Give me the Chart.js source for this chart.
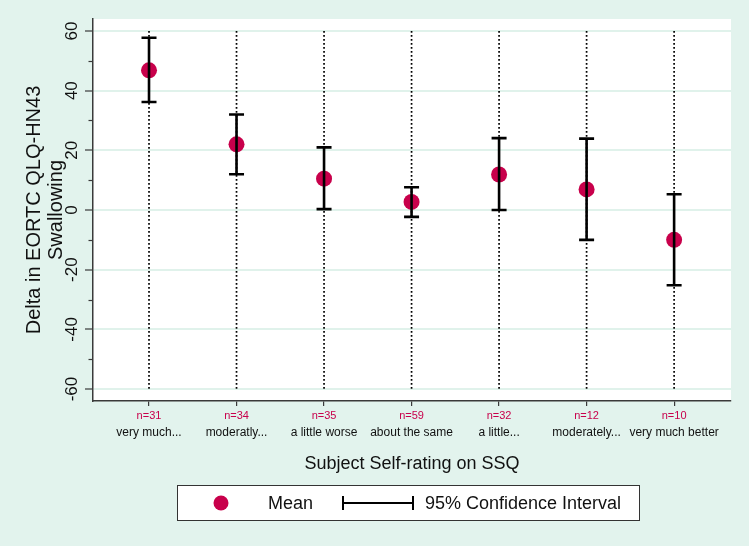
<!DOCTYPE html>
<html>
<head>
<meta charset="utf-8">
<script src="https://cdn.jsdelivr.net/npm/chart.js@4.4.1/dist/chart.umd.min.js"></script>
<style>
  html, body { margin: 0; padding: 0; background: #e2f3ed; }
  #wrap { position: relative; width: 749px; height: 546px; }
</style>
</head>
<body>
<div id="wrap"><canvas id="c" width="749" height="546"></canvas></div>
<script>
// ---- data ----
const categories = ['very much...', 'moderatly...', 'a little worse', 'about the same', 'a little...', 'moderately...', 'very much better'];
const sampleSizes = ['n=31', 'n=34', 'n=35', 'n=59', 'n=32', 'n=12', 'n=10'];
const means   = [46.8, 22.0, 10.5, 2.7, 11.9, 6.9, -10.0];
const ciLower = [36.2, 12.0, 0.3, -2.3, 0.0, -10.0, -25.2];
const ciUpper = [57.7, 32.0, 21.0, 7.6, 24.1, 23.9, 5.3];
const yMajorTicks = [-60, -40, -20, 0, 20, 40, 60];
const yMinorTicks = [-50, -30, -10, 10, 30, 50];
const yTitle = ['Delta in EORTC QLQ-HN43', 'Swallowing'];
const xTitle = 'Subject Self-rating on SSQ';
const legendLabels = ['Mean', '95% Confidence Interval'];

// ---- styles ----
const BG = '#e2f3ed';
const GRID = '#e0f2eb';
const RED = '#c8004b';
const AXIS = '#3a3a3a';
const FONT = '"Liberation Sans", Arial, sans-serif';

const bgPlugin = {
  id: 'bg',
  beforeDraw(chart) {
    const { ctx, chartArea: a } = chart;
    ctx.save();
    ctx.fillStyle = BG;
    ctx.fillRect(0, 0, chart.width, chart.height);
    ctx.fillStyle = '#ffffff';
    ctx.fillRect(a.left, a.top, a.right - a.left, a.bottom - a.top);
    ctx.restore();
  }
};

const marksPlugin = {
  id: 'marks',
  beforeDatasetsDraw(chart) {
    const { ctx, scales: { x, y } } = chart;
    ctx.save();
    // dotted reference lines at each category
    ctx.strokeStyle = '#000';
    ctx.lineWidth = 1.7;
    ctx.setLineDash([1.7, 2.3]);
    const yTop = y.getPixelForValue(yMajorTicks[yMajorTicks.length - 1]);
    const yBot = y.getPixelForValue(yMajorTicks[0]);
    categories.forEach((c, i) => {
      const px = x.getPixelForValue(i);
      ctx.beginPath();
      ctx.moveTo(px, yTop);
      ctx.lineTo(px, yBot);
      ctx.stroke();
    });
    ctx.restore();
  },
  afterDatasetsDraw(chart) {
    const { ctx, scales: { x, y } } = chart;
    ctx.save();
    ctx.strokeStyle = '#000';
    ctx.lineWidth = 2.6;
    ctx.lineCap = 'butt';
    const half = 7.5;
    categories.forEach((c, i) => {
      const px = x.getPixelForValue(i);
      const lo = y.getPixelForValue(ciLower[i]);
      const hi = y.getPixelForValue(ciUpper[i]);
      ctx.beginPath();
      ctx.moveTo(px, lo); ctx.lineTo(px, hi);
      ctx.moveTo(px - half, lo); ctx.lineTo(px + half, lo);
      ctx.moveTo(px - half, hi); ctx.lineTo(px + half, hi);
      ctx.stroke();
    });
    ctx.restore();
  },
  afterDraw(chart) {
    const { ctx, scales: { y }, chartArea: a } = chart;
    ctx.save();
    // minor y ticks
    ctx.strokeStyle = AXIS;
    ctx.lineWidth = 1.2;
    yMinorTicks.forEach(v => {
      const py = Math.round(y.getPixelForValue(v)) + 0.5;
      ctx.beginPath();
      ctx.moveTo(a.left - 4.5, py);
      ctx.lineTo(a.left, py);
      ctx.stroke();
    });
    // rotated y tick labels
    ctx.fillStyle = '#111';
    ctx.font = '17px ' + FONT;
    ctx.textAlign = 'center';
    ctx.textBaseline = 'middle';
    yMajorTicks.forEach(v => {
      const py = y.getPixelForValue(v);
      ctx.save();
      ctx.translate(a.left - 20.5, py);
      ctx.rotate(-Math.PI / 2);
      ctx.fillText(String(v), 0, 0);
      ctx.restore();
    });
    // y title (two lines, rotated)
    ctx.font = '20px ' + FONT;
    const cy = (a.top + a.bottom) / 2;
    [34, 56].forEach((xx, k) => {
      ctx.save();
      ctx.translate(xx, cy);
      ctx.rotate(-Math.PI / 2);
      ctx.fillText(yTitle[k], 0, 0);
      ctx.restore();
    });
    // legend box
    const lx = 177, ly = 485, lw = 462, lh = 35;
    ctx.fillStyle = '#ffffff';
    ctx.fillRect(lx, ly, lw, lh);
    ctx.strokeStyle = '#333';
    ctx.lineWidth = 1;
    ctx.strokeRect(lx + 0.5, ly + 0.5, lw, lh);
    const my = ly + lh / 2 + 0.5;
    ctx.fillStyle = RED;
    ctx.beginPath();
    ctx.arc(221, my, 7.5, 0, Math.PI * 2);
    ctx.fill();
    ctx.fillStyle = '#111';
    ctx.font = '18px ' + FONT;
    ctx.textAlign = 'left';
    ctx.fillText(legendLabels[0], 268, my + 1);
    ctx.strokeStyle = '#000';
    ctx.lineWidth = 2;
    ctx.beginPath();
    ctx.moveTo(343, my); ctx.lineTo(413, my);
    ctx.moveTo(343, my - 7); ctx.lineTo(343, my + 7);
    ctx.moveTo(413, my - 7); ctx.lineTo(413, my + 7);
    ctx.stroke();
    ctx.fillText(legendLabels[1], 425, my + 1);
    ctx.restore();
  }
};

const chart = new Chart(document.getElementById('c'), {
  type: 'scatter',
  data: {
    datasets: [{
      label: legendLabels[0],
      data: means.map((m, i) => ({ x: i, y: m })),
      backgroundColor: RED,
      borderColor: RED,
      borderWidth: 0,
      pointRadius: 8,
      pointHoverRadius: 8
    }]
  },
  options: {
    responsive: false,
    animation: false,
    events: [],
    layout: { padding: { left: 0, right: 18, top: 19, bottom: 0 } },
    plugins: { legend: { display: false }, tooltip: { enabled: false } },
    scales: {
      x: {
        type: 'linear',
        position: 'bottom',
        min: -0.64,
        max: 6.65,
        afterBuildTicks(s) { s.ticks = categories.map((c, i) => ({ value: i })); },
        afterFit(s) { s.height = 22; },
        border: { display: true, color: AXIS, width: 1.5 },
        grid: { display: true, drawOnChartArea: false, drawTicks: true, tickLength: 5, tickColor: AXIS, lineWidth: 1.2 },
        ticks: {
          autoSkip: false, maxRotation: 0, minRotation: 0, padding: 3,
          color: RED, font: { family: FONT, size: 11 },
          callback: (v) => sampleSizes[v]
        }
      },
      x2: {
        type: 'linear',
        position: 'bottom',
        min: -0.64,
        max: 6.65,
        afterBuildTicks(s) { s.ticks = categories.map((c, i) => ({ value: i })); },
        afterFit(s) { s.height = 123; },
        border: { display: false },
        grid: { display: false, drawTicks: false },
        ticks: {
          autoSkip: false, maxRotation: 0, minRotation: 0, padding: 2,
          color: '#111', font: { family: FONT, size: 12 },
          callback: (v) => categories[v]
        },
        title: {
          display: true, text: xTitle, color: '#111',
          font: { family: FONT, size: 18 }, padding: { top: 0, bottom: 71 }
        }
      },
      y: {
        type: 'linear',
        position: 'left',
        min: -64,
        max: 64,
        afterBuildTicks(s) { s.ticks = yMajorTicks.map(v => ({ value: v })); },
        afterFit(s) { s.width = 93; },
        border: { display: true, color: AXIS, width: 1.5 },
        grid: { display: true, color: GRID, lineWidth: 2, drawTicks: true, tickLength: 8, tickColor: AXIS, tickWidth: 1.2 },
        ticks: { display: false }
      }
    }
  },
  plugins: [bgPlugin, marksPlugin]
});
</script>
</body>
</html>
